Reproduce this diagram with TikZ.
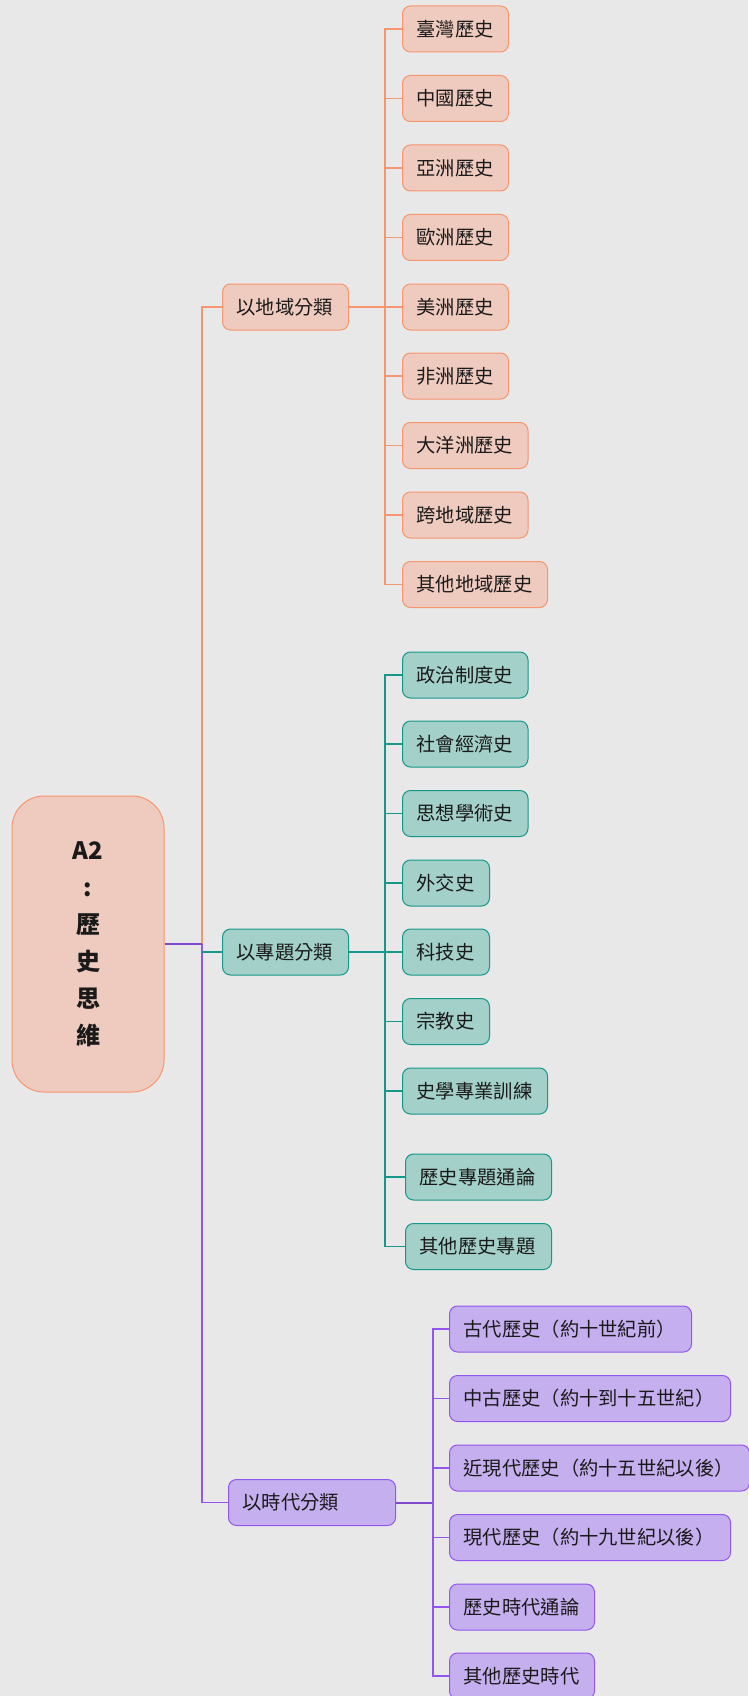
\documentclass[tikz,border=0pt]{standalone}
\usepackage{fontspec}
\newfontfamily\cjk{Noto Sans CJK TC}
\definecolor{bg}{HTML}{E8E8E8}
\definecolor{ofill}{HTML}{EFCBBF}
\definecolor{oline}{HTML}{F6956E}
\definecolor{tfill}{HTML}{A3D0C9}
\definecolor{tline}{HTML}{17978A}
\definecolor{pfill}{HTML}{C5AFEF}
\definecolor{pline}{HTML}{9355EE}
\definecolor{txt}{HTML}{1A1A1A}
\tikzset{
  box/.style={rounded corners=8pt, line width=1pt, anchor=west, minimum height=46pt,
    inner xsep=14pt, inner ysep=0pt, align=left, text=txt,
    font=\cjk\fontsize{19.3pt}{22pt}\selectfont},
  obox/.style={box, fill=ofill, draw=oline},
  tbox/.style={box, fill=tfill, draw=tline},
  pbox/.style={box, fill=pfill, draw=pline},
  ol/.style={draw=oline, line width=1.1pt},
  tl/.style={draw=tline, line width=1.1pt},
  pl/.style={draw=pline, line width=1.1pt},
  plthick/.style={draw=pline!85!black, line width=2pt},
}
\begin{document}
\begin{tikzpicture}[x=1pt,y=-1pt]
\fill[bg] (0,0) rectangle (748,1696);
\useasboundingbox (0,0) rectangle (748,1696);
% root
\node[rounded corners=32pt, fill=ofill, draw=oline, line width=1pt,
  minimum width=152pt, minimum height=296pt, align=center, text=txt,
  font=\cjk\bfseries\fontsize{24pt}{37pt}\selectfont] (root) at (88,944)
  {A2\\:\\歷\\史\\思\\維};
% level 1
\node[obox, text width=98pt] (reg) at (222,307) {以地域分類};
\node[tbox, text width=98pt] (top) at (222,952) {以專題分類};
\node[pbox, text width=139pt] (era) at (228,1502.5) {以時代分類};
% orange leaves
\node[obox, text width=78pt] (o1) at (402,29) {臺灣歷史};
\node[obox, text width=78pt] (o2) at (402,98.5) {中國歷史};
\node[obox, text width=78pt] (o3) at (402,168) {亞洲歷史};
\node[obox, text width=78pt] (o4) at (402,237.5) {歐洲歷史};
\node[obox, text width=78pt] (o5) at (402,307) {美洲歷史};
\node[obox, text width=78pt] (o6) at (402,376) {非洲歷史};
\node[obox, text width=97.5pt] (o7) at (402,445.5) {大洋洲歷史};
\node[obox, text width=97.5pt] (o8) at (402,515) {跨地域歷史};
\node[obox, text width=117pt] (o9) at (402,584.5) {其他地域歷史};
% teal leaves
\node[tbox, text width=97.5pt] (t1) at (402,675) {政治制度史};
\node[tbox, text width=97.5pt] (t2) at (402,744) {社會經濟史};
\node[tbox, text width=97.5pt] (t3) at (402,813.5) {思想學術史};
\node[tbox, text width=59pt] (t4) at (402,883) {外交史};
\node[tbox, text width=59pt] (t5) at (402,952) {科技史};
\node[tbox, text width=59pt] (t6) at (402,1021.5) {宗教史};
\node[tbox, text width=117pt] (t7) at (402,1091) {史學專業訓練};
\node[tbox, text width=118pt] (t8) at (405,1177) {歷史專題通論};
\node[tbox, text width=118pt] (t9) at (405,1246.5) {其他歷史專題};
% purple leaves
\node[pbox, text width=214pt] (p1) at (449,1329) {古代歷史（約十世紀前）};
\node[pbox, text width=253pt] (p2) at (449,1398.5) {中古歷史（約十到十五世紀）};
\node[pbox, text width=272pt] (p3) at (449,1468) {近現代歷史（約十五世紀以後）};
\node[pbox, text width=253pt] (p4) at (449,1537.5) {現代歷史（約十九世紀以後）};
\node[pbox, text width=117pt] (p5) at (449,1607) {歷史時代通論};
\node[pbox, text width=117pt] (p6) at (449,1676) {其他歷史時代};
% junction coordinates
\coordinate (s0) at (202,944);
\coordinate (oj) at (385,307);
\coordinate (tj) at (385,952);
\coordinate (ej) at (433,1502.5);
% connectors, level 0 -> 1
\draw[ol] (s0) |- (reg.west);
\draw[pl] (s0) |- (era.west);
\draw[tl] (s0 |- top.west) -- (top.west);
\draw[plthick] (root.east |- s0) -- (s0);
% orange
\draw[ol] (reg.east) -- (oj);
\foreach \n in {o1,o2,o3,o4,o5,o6,o7,o8,o9} \draw[ol] (oj) |- (\n.west);
% teal
\draw[tl] (top.east) -- (tj);
\foreach \n in {t1,t2,t3,t4,t5,t6,t7,t8,t9} \draw[tl] (tj) |- (\n.west);
% purple
\draw[plthick] (era.east) -- (ej);
\foreach \n in {p1,p2,p3,p4,p5,p6} \draw[pl] (ej) |- (\n.west);
\end{tikzpicture}
\end{document}
